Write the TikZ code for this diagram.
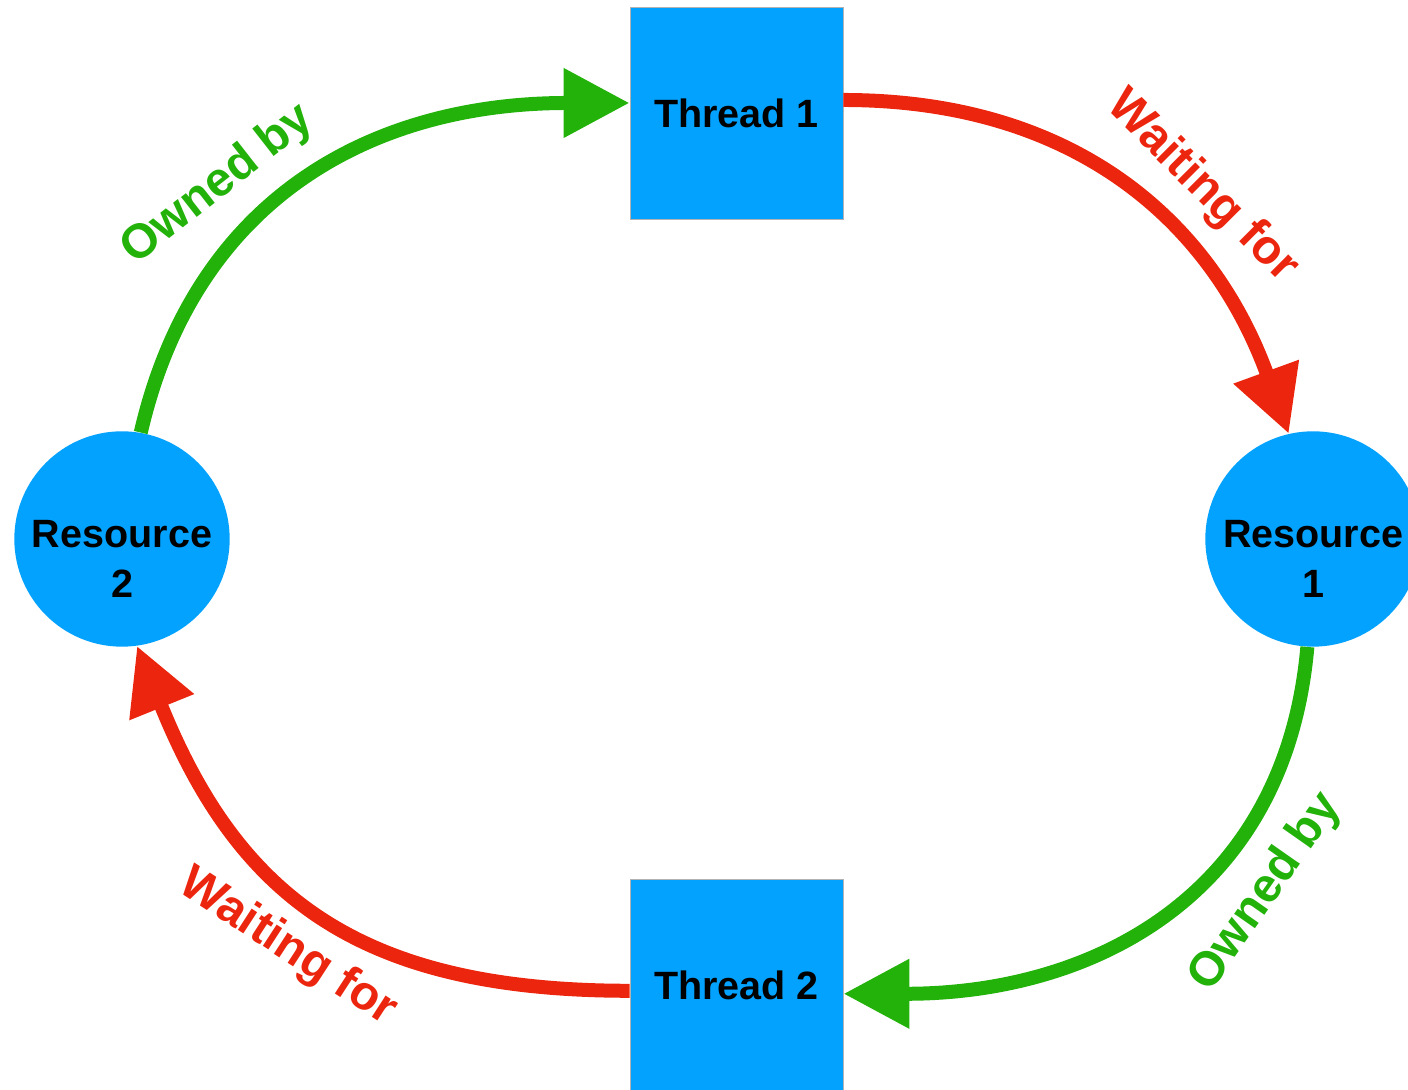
\documentclass[tikz,border=0pt]{standalone}
\usepackage{fontspec}
\setmainfont{Liberation Sans}
\usepackage{tikz}
\usetikzlibrary{arrows.meta,positioning}
\definecolor{azulhilo}{RGB}{3,162,255}
\definecolor{verde}{RGB}{34,178,10}
\definecolor{rojo}{RGB}{236,38,14}

\begin{document}
\begin{tikzpicture}[x=0.5pt,y=0.5pt,
hilo/.style={draw=gray!60,line width=0.4pt,fill=azulhilo,minimum width=106.5pt,minimum height=106pt,inner sep=0pt,align=center,font=\fontsize{19.75}{25}\selectfont\bfseries},
recurso/.style={circle,fill=azulhilo,minimum size=107pt,inner sep=0pt,align=center,font=\fontsize{19.75}{25}\selectfont\bfseries},
posee/.style={-{Triangle[length=33pt,width=33pt]},line width=7pt,draw=verde},
espera/.style={-{Triangle[length=33pt,width=33pt]},line width=7pt,draw=rojo},
lbl/.style={font=\fontsize{24}{28}\selectfont\bfseries,inner sep=0pt}
]
\useasboundingbox (0,0) rectangle (1408,1090);
\node[hilo] (t1) at (736.5,977) {Thread 1};
\node[hilo,below=330pt of t1] (t2) {Thread 2};
\node[recurso] (r2) at (122,551) {\rule{0pt}{34pt}Resource\\2};
\node[recurso] (r1) at (1313,551) {\rule{0pt}{34pt}Resource\\1};

\draw[posee] (r2.80) to[out=77,in=180,looseness=1.08] ([yshift=5pt]t1.west);
\draw[espera] ([yshift=6.5pt]t1.east) to[out=0,in=110,looseness=1.05] (r1.103);
\draw[posee] (r1.-93) to[out=-95,in=0,looseness=1.1] ([yshift=-4pt]t2.east);
\draw[espera] ([yshift=-2.5pt]t2.west) to[out=180,in=-68,looseness=1.15] (r2.-82);

\node[lbl,text=verde,rotate=38] (posee1) at (218,905) {Owned by};
\node[lbl,text=rojo,rotate=-45] (espera1) at (1202,903) {Waiting for};
\node[lbl,text=verde,rotate=55] (posee2) at (1266,198) {Owned by};
\node[lbl,text=rojo,rotate=-33] (espera2) at (288,142) {Waiting for};
\end{tikzpicture}
\end{document}
